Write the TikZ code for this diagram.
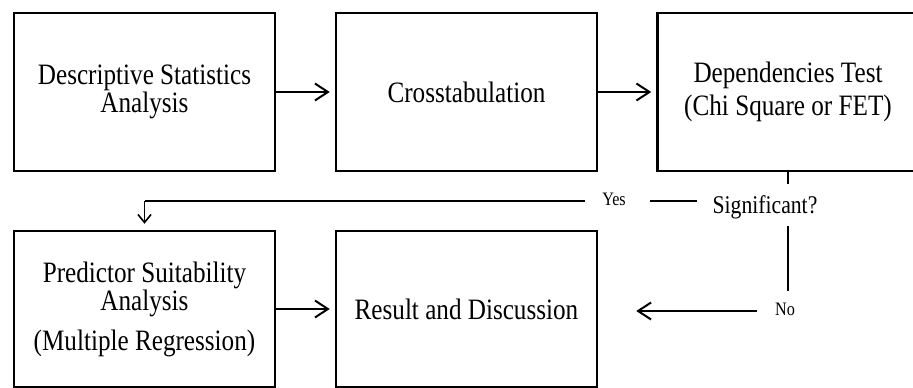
\documentclass[tikz,border=0pt]{standalone}
\usepackage{fontspec}
\setmainfont{Liberation Serif}[FakeStretch=0.85]
\usetikzlibrary{arrows.meta}
\begin{document}
\begin{tikzpicture}[x=1pt,y=-1pt,
  box/.style={draw, line width=2.5pt, minimum width=261pt, align=center, inner sep=0pt,
    font=\fontsize{29.6}{23}\selectfont},
  toprow/.style={box, minimum height=158pt},
  botrow/.style={box, minimum height=156pt},
  arr/.style={line width=2pt, -{Straight Barb[length=13pt,width=17pt]}},
  downarr/.style={line width=1.6pt, -{Straight Barb[length=8pt,width=13pt]}},
  conn/.style={line width=1.6pt},
  lab/.style={font=\fontsize{19}{19}\selectfont, inner sep=0pt, anchor=base},
  question/.style={font=\fontsize{25.5}{25.5}\selectfont, inner sep=0pt, anchor=base}]
\clip (0,0) rectangle (913,388);
\fill[white] (0,0) rectangle (913,388);
% boxes
\node[toprow] (b1) at (144.5,92) {Descriptive Statistics\\Analysis};
\node[toprow] (b2) at (466.5,92) {Crosstabulation};
\node[toprow, font=\fontsize{29.6}{33}\selectfont] (b3) at (788,92) {Dependencies Test\\(Chi Square or FET)};
\node[botrow, font=\fontsize{29.6}{25}\selectfont] (b4) at (144.5,309) {Predictor Suitability\\Analysis\\[12pt](Multiple Regression)};
\node[botrow] (b5) at (466.5,309) {Result and Discussion};
% decision labels
\node[question] (sig) at (765,213) {Significant?};
\node[lab] (yes) at (614,205) {Yes};
\node[lab] (no) at (785,315) {No};
% helper coordinates
\coordinate (v1) at (788,184);
\coordinate (v2) at (788,226);
\coordinate (v3) at (788,291);
\coordinate (ya) at (697,201);
\coordinate (yc) at (650,201);
\coordinate (yd) at (585,201);
\coordinate (yb) at (144.5,201);
\coordinate (n1) at (757,311);
% connectors
\draw[arr, shorten >=5pt] (b1.east) -- (b2.west);
\draw[arr, shorten >=5pt] (b2.east) -- (b3.west);
\draw[arr, shorten >=5pt] (b4.east) -- (b4.east -| b5.west);
\draw[conn] (b3.south) -- (v1);
\draw[conn] (ya) -- (yc);
\draw[conn] (yd) -- (yb);
\draw[downarr, shorten >=6pt] (yb) -- (b4.north);
\draw[conn] (v2) -- (v3);
\draw[arr, shorten >=38pt] (n1) -- (n1 -| b5.east);
\end{tikzpicture}
\end{document}
